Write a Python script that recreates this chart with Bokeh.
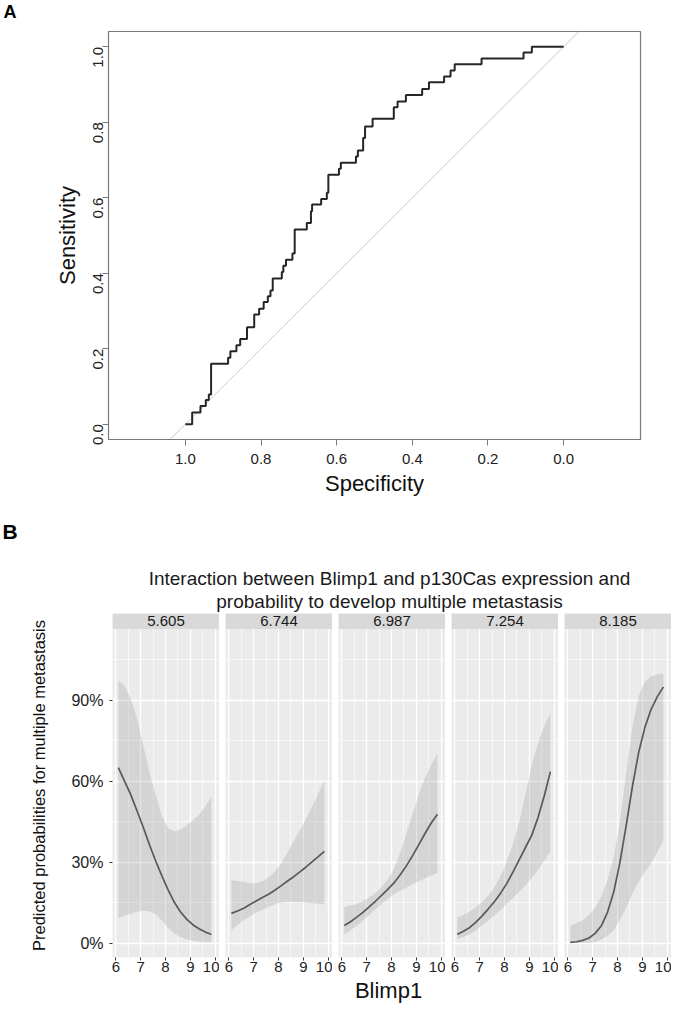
import math
from bokeh.plotting import figure
from bokeh.layouts import column, row
from bokeh.models import (Range1d, FixedTicker, Label, BoxAnnotation,
                          PrintfTickFormatter, Slope)
from bokeh.embed import file_html
from bokeh.resources import INLINE

FONT = "Liberation Sans"

# ---------------- Panel A data: ROC curve (step vertices) ----------------
specificity = [1.000, 0.982, 0.960, 0.946, 0.938, 0.932, 0.887, 0.881, 0.865,
               0.855, 0.837, 0.818, 0.805, 0.793, 0.782, 0.775, 0.769, 0.745,
               0.741, 0.734, 0.717, 0.711, 0.679, 0.668, 0.665, 0.641, 0.626,
               0.622, 0.594, 0.589, 0.549, 0.544, 0.530, 0.525, 0.505, 0.449,
               0.439, 0.417, 0.374, 0.356, 0.316, 0.299, 0.288, 0.217, 0.106,
               0.084, 0.000]
sensitivity = [0.000, 0.031, 0.048, 0.064, 0.079, 0.160, 0.176, 0.193, 0.209,
               0.226, 0.257, 0.291, 0.306, 0.324, 0.339, 0.354, 0.386, 0.403,
               0.420, 0.436, 0.452, 0.516, 0.533, 0.564, 0.582, 0.597, 0.613,
               0.661, 0.677, 0.693, 0.709, 0.725, 0.758, 0.789, 0.809, 0.840,
               0.855, 0.872, 0.888, 0.906, 0.921, 0.937, 0.954, 0.969, 0.985,
               1.000, 1.000]
roc_ticks = [0.0, 0.2, 0.4, 0.6, 0.8, 1.0]

# ---------------- Panel B data ----------------
facet_labels = ["5.605", "6.744", "6.987", "7.254", "8.185"]
blimp1 = [6.1, 6.35, 6.6, 6.85, 7.1, 7.35, 7.6, 7.85, 8.1, 8.35, 8.6, 8.85,
          9.1, 9.35, 9.6, 9.85]
pred_5605 = [65.0, 60.0, 55.0, 49.0, 43.0, 36.5, 30.5, 25.0, 19.8, 15.2, 11.6,
             8.9, 6.8, 5.3, 4.1, 3.2]
low_5605 = [9.3, 10.1, 10.9, 11.6, 12.0, 11.8, 10.7, 8.4, 5.7, 3.6, 2.3, 1.4,
            0.9, 0.6, 0.4, 0.2]
up_5605 = [97.3, 95.3, 90.5, 83.5, 73.5, 63.5, 55.0, 47.3, 42.7, 41.4, 42.0,
           43.6, 45.5, 47.5, 50.5, 54.3]
pred_6744 = [11.0, 11.9, 12.9, 14.3, 15.6, 16.9, 18.1, 19.6, 21.2, 22.9, 24.5,
             26.3, 28.1, 30.1, 32.0, 34.0]
low_6744 = [4.8, 6.8, 8.5, 9.9, 11.2, 12.4, 13.5, 14.4, 15.0, 15.3, 15.3, 15.2,
            15.0, 14.8, 14.6, 14.3]
up_6744 = [23.3, 23.0, 22.6, 22.3, 22.3, 22.9, 24.2, 26.4, 29.4, 33.3, 37.6,
           41.6, 45.9, 50.5, 55.4, 60.2]
pred_6987 = [6.5, 7.9, 9.6, 11.4, 13.4, 15.5, 17.7, 19.9, 22.3, 25.3, 28.6,
             32.4, 36.5, 40.6, 44.5, 47.7]
low_6987 = [3.2, 4.8, 6.3, 8.3, 10.3, 12.5, 14.5, 16.4, 18.1, 19.4, 20.6, 21.8,
            22.9, 24.0, 25.0, 25.9]
up_6987 = [13.5, 13.9, 14.5, 15.5, 16.9, 18.6, 20.8, 23.5, 27.5, 33.5, 40.5,
           48.0, 55.0, 61.2, 66.0, 70.2]
pred_7254 = [3.3, 4.4, 5.8, 7.8, 10.1, 12.7, 15.4, 18.6, 22.2, 26.5, 31.0, 35.5,
             40.0, 46.5, 54.5, 63.5]
low_7254 = [1.5, 2.3, 3.3, 4.8, 6.5, 8.4, 10.3, 12.4, 14.7, 16.8, 19.0, 21.5,
            24.2, 27.1, 30.4, 33.8]
up_7254 = [9.5, 10.5, 11.7, 13.3, 15.3, 17.6, 20.8, 25.0, 30.5, 37.0, 45.0,
           55.5, 66.0, 74.0, 80.5, 85.3]
pred_8185 = [0.3, 0.5, 1.0, 1.9, 3.6, 6.4, 11.5, 19.0, 30.0, 43.5, 58.0, 70.5,
             79.8, 86.5, 91.2, 94.9]
low_8185 = [0.0, 0.0, 0.1, 0.15, 0.4, 1.3, 2.6, 4.8, 8.7, 13.0, 18.4, 22.8,
            26.3, 29.5, 33.5, 38.2]
up_8185 = [6.4, 7.4, 8.5, 10.5, 13.2, 17.3, 23.5, 32.0, 45.0, 63.0, 80.0, 91.5,
           96.8, 98.8, 99.6, 99.8]
blimp1_ticks = [6, 7, 8, 9, 10]
blimp1_minor = [6.5, 7.5, 8.5, 9.5]
prob_ticks = [0, 30, 60, 90]
prob_minor = [15, 45, 75, 105]

title_lines = ["Interaction between Blimp1 and p130Cas expression and",
               "probability to develop multiple metastasis"]

W = 675


def text_strip(height):
    """A blank full-width figure whose frame covers its whole canvas,
    with y measured downward in pixels."""
    f = figure(width=W, height=height, x_range=Range1d(0, W),
               y_range=Range1d(height, 0), x_axis_type=None,
               y_axis_type=None, output_backend="svg",
               toolbar_location=None, title=None, min_border=0)
    f.outline_line_color = None
    return f


# ================= "A" header =================
HA = 30
hdrA = text_strip(HA)
hdrA.add_layout(Label(x=3, y=11, text="A", text_font=FONT,
                      text_font_style="bold", text_font_size="18px",
                      text_baseline="middle", text_align="left",
                      text_color="#000000"))

# ================= Panel A =================
A_BL, A_BR, A_BT, A_BB = 108, 35, 1, 66
A_FH = 408
A_H = A_BT + A_FH + A_BB
A_X = (1.2032, -0.2032)
A_Y = (-0.0405, 1.0405)

pa = figure(width=W, height=A_H, x_range=Range1d(*A_X), y_range=Range1d(*A_Y),
            output_backend="svg", toolbar_location=None, title=None,
            min_border_left=A_BL, min_border_right=A_BR,
            min_border_top=A_BT, min_border_bottom=A_BB)
pa.grid.visible = False
pa.outline_line_color = "#7a7a7a"
pa.outline_line_width = 1.2
pa.outline_line_alpha = 1.0
pa.add_layout(Slope(gradient=-1, y_intercept=1, line_color="#c8c8c8",
                    line_width=1, level="underlay"))
pa.step(specificity, sensitivity, mode="after", line_color="#262626",
        line_width=2)
for ax in (pa.xaxis[0], pa.yaxis[0]):
    ax.ticker = FixedTicker(ticks=roc_ticks)
    ax.formatter = PrintfTickFormatter(format="%.1f")
    ax.major_tick_out = 6
    ax.major_tick_in = 0
    ax.minor_tick_line_color = None
    ax.major_tick_line_color = "#7a7a7a"
    ax.axis_line_color = "#7a7a7a"
    ax.major_label_text_font = FONT
    ax.major_label_text_font_size = "15px"
    ax.major_label_text_color = "#222222"
    ax.axis_label_text_font = FONT
    ax.axis_label_text_font_size = "22px"
    ax.axis_label_text_font_style = "normal"
    ax.axis_label_text_color = "#111111"
pa.xaxis.axis_label = "Specificity"
pa.yaxis.axis_label = "Sensitivity"
pa.yaxis.major_label_orientation = math.pi / 2
pa.xaxis.major_label_standoff = 8
pa.xaxis.axis_label_standoff = 4
pa.yaxis.major_label_standoff = 4
pa.yaxis.axis_label_standoff = 6

# ================= Header of panel B =================
HB = 108
hdrB = text_strip(HB)
hdrB.add_layout(Label(x=2, y=25.5, text="B", text_font=FONT,
                      text_font_style="bold", text_font_size="21px",
                      text_baseline="middle", text_align="left",
                      text_color="#000000"))
for k, line_txt in enumerate(title_lines):
    hdrB.add_layout(Label(x=389, y=73.3 + 22.4 * k, text=line_txt,
                          text_font=FONT, text_font_size="19px",
                          text_baseline="middle", text_align="center",
                          text_color="#1a1a1a"))

# ================= Facets =================
B_X = (5.865, 10.175)
B_Y = (-5.33, 122.07)
PANEL_TOP = 116.3
FW, FH, FB = 107, 344, 22
FIRST_LEFT, GAP = 112, 6

series = [(pred_5605, low_5605, up_5605), (pred_6744, low_6744, up_6744),
          (pred_6987, low_6987, up_6987), (pred_7254, low_7254, up_7254),
          (pred_8185, low_8185, up_8185)]

facets = []
for i, (lab, (pred, lo, hi)) in enumerate(zip(facet_labels, series)):
    bl = FIRST_LEFT if i == 0 else GAP
    p = figure(width=bl + FW, height=FH + FB, x_range=Range1d(*B_X),
               y_range=Range1d(*B_Y), output_backend="svg",
               toolbar_location=None, title=None,
               min_border_left=bl, min_border_right=0, min_border_top=0,
               min_border_bottom=FB)
    p.background_fill_color = "#EBEBEB"
    p.border_fill_color = "white"
    p.outline_line_color = None
    xt = FixedTicker(ticks=blimp1_ticks, minor_ticks=blimp1_minor)
    yt = FixedTicker(ticks=prob_ticks, minor_ticks=prob_minor)
    p.xaxis.ticker = xt
    p.xgrid.ticker = xt
    p.yaxis.ticker = yt
    p.ygrid.ticker = yt
    p.grid.grid_line_color = "white"
    p.grid.grid_line_width = 1.3
    p.grid.minor_grid_line_color = "white"
    p.grid.minor_grid_line_width = 0.6

    p.varea(x=blimp1, y1=lo, y2=hi, fill_color="#999999", fill_alpha=0.28)
    p.line(blimp1, pred, line_color="#595959", line_width=1.7)

    p.add_layout(BoxAnnotation(bottom=PANEL_TOP, fill_color="#D9D9D9",
                               fill_alpha=1.0, line_color=None))
    p.add_layout(Label(x=(B_X[0] + B_X[1]) / 2, y=(PANEL_TOP + B_Y[1]) / 2,
                       text=lab, text_font=FONT, text_font_size="15px",
                       text_align="center", text_baseline="middle",
                       text_color="#1a1a1a"))

    p.xaxis.axis_line_color = None
    p.xaxis.major_tick_out = 3
    p.xaxis.major_tick_in = 0
    p.xaxis.minor_tick_line_color = None
    p.xaxis.major_tick_line_color = "#333333"
    p.xaxis.major_label_text_font = FONT
    p.xaxis.major_label_text_font_size = "15px"
    p.xaxis.major_label_text_color = "#222222"
    p.xaxis.major_label_standoff = 0

    if i == 0:
        p.yaxis.formatter = PrintfTickFormatter(format="%d%%")
        p.yaxis.axis_line_color = None
        p.yaxis.major_tick_out = 3
        p.yaxis.major_tick_in = 0
        p.yaxis.minor_tick_line_color = None
        p.yaxis.major_tick_line_color = "#333333"
        p.yaxis.major_label_text_font = FONT
        p.yaxis.major_label_text_font_size = "16px"
        p.yaxis.major_label_text_color = "#222222"
        p.yaxis.major_label_standoff = 5
        p.yaxis.axis_label = "Predicted probabilities for multiple metastasis"
        p.yaxis.axis_label_text_font = FONT
        p.yaxis.axis_label_text_font_size = "16.5px"
        p.yaxis.axis_label_text_font_style = "normal"
        p.yaxis.axis_label_text_color = "#111111"
        p.yaxis.axis_label_standoff = 20
    else:
        p.yaxis.visible = False
    facets.append(p)

# ================= Footer (x-axis title of panel B) =================
HF = 26
footer = text_strip(HF)
footer.add_layout(Label(x=388, y=11, text="Blimp1", text_font=FONT,
                        text_font_size="22px", text_align="center",
                        text_baseline="middle", text_color="#111111"))

layout = column(row(hdrA), row(pa), row(hdrB), row(*facets), row(footer))
open("out.html", "w").write(file_html(layout, INLINE))
